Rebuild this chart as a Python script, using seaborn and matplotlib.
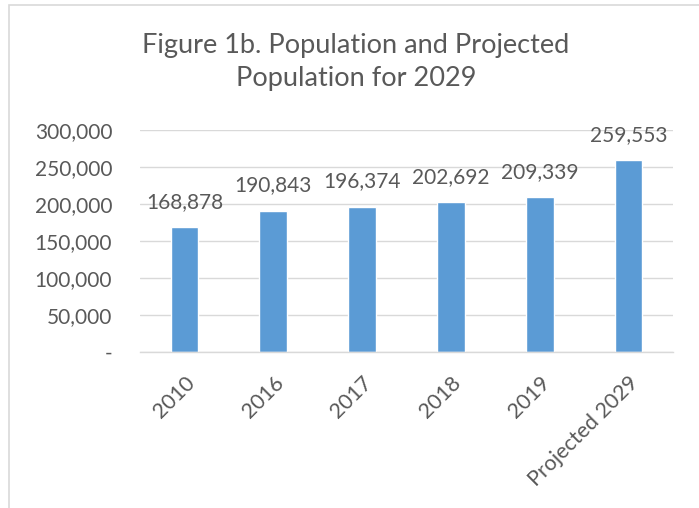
import matplotlib
matplotlib.use("Agg")
import matplotlib.pyplot as plt
import seaborn as sns
import pandas as pd
from matplotlib.patches import Rectangle
from matplotlib.ticker import FuncFormatter

years = ['2010', '2016', '2017', '2018', '2019', 'Projected 2029']
population = [168878, 190843, 196374, 202692, 209339, 259553]
yticks = [0, 50000, 100000, 150000, 200000, 250000, 300000]

sns.set_theme(style='white')
plt.rcParams['font.family'] = ['Lato', 'DejaVu Sans']
txt = '#595959'

df = pd.DataFrame({'year': years, 'pop': population})

fig = plt.figure(figsize=(6.99, 5.08), dpi=100)
ax = fig.add_axes([140 / 699, 1 - 352 / 508, 533 / 699, 222 / 508])

sns.barplot(data=df, x='year', y='pop', color='#5b9bd5', width=0.31,
            saturation=1, ax=ax)

ax.set_ylim(0, 300000)
ax.set_yticks(yticks)
ax.yaxis.set_major_formatter(FuncFormatter(lambda v, p: '-' if v == 0 else f'{int(v):,}'))
ax.grid(axis='y', color='#d9d9d9', linewidth=1)
ax.set_axisbelow(True)
for s in ['top', 'right', 'left']:
    ax.spines[s].set_visible(False)
ax.spines['bottom'].set_color('#d9d9d9')
ax.spines['bottom'].set_linewidth(1)
ax.tick_params(axis='y', length=0, pad=20, labelsize=15, labelcolor=txt)
ax.tick_params(axis='x', length=0, pad=15, labelsize=15.5, labelcolor=txt)
for lab in ax.get_xticklabels():
    lab.set_rotation(45)
    lab.set_ha('right')
    lab.set_rotation_mode('anchor')
ax.set_xlabel('')
ax.set_ylabel('')

for i, v in enumerate(population):
    ax.annotate(f'{v:,}', (i, v), xytext=(0, 11), textcoords='offset points',
                ha='center', va='bottom', fontsize=15, color=txt)

fig.text(356 / 699, 1 - 62 / 508, 'Figure 1b. Population and Projected\nPopulation for 2029',
         ha='center', va='center', fontsize=19.5, color=txt, linespacing=1.4)

fig.patches.append(Rectangle((9 / 699, -0.01), 700 / 699, 1 - 5 / 508 + 0.01, transform=fig.transFigure,
                             fill=False, edgecolor='#d9d9d9', linewidth=1.2))

fig.savefig('out.png', dpi=100)
